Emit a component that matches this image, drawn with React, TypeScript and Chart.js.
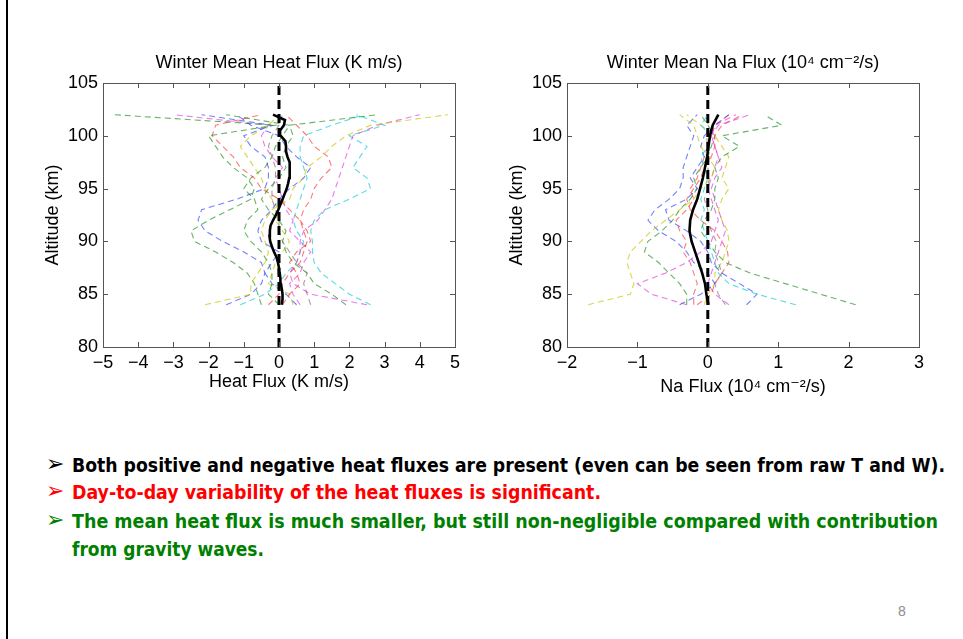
import React, { useEffect, useLayoutEffect, useRef } from 'react';
import { Chart, registerables } from 'chart.js';

Chart.register(...registerables);

// ---------------- DATA ----------------
const ALT = [84, 85, 86, 87, 88, 89, 90, 91, 92, 93, 94, 95, 96, 97, 98, 99, 100, 101, 102];
const ZERO_ALT = [80, 105];
const ZERO_VAL = [0, 0];

const HEAT_X_TICKS = [-5, -4, -3, -2, -1, 0, 1, 2, 3, 4, 5];
const NA_X_TICKS = [-2, -1, 0, 1, 2, 3];
const ALT_TICKS = [80, 85, 90, 95, 100, 105];

// Heat flux mean (0.5 km steps)
const HEAT_MEAN_ALT = [84, 84.5, 85, 85.5, 86, 86.5, 87, 87.5, 88, 88.5, 89, 89.5, 90, 90.5, 91, 91.5, 92, 92.5, 93, 93.5, 94, 94.5, 95, 95.5, 96, 96.5, 97, 97.5, 98, 98.5, 99, 99.5, 100, 100.5, 101, 101.5, 102];
const heatMean = [0.08, 0.1, 0.1, 0.08, 0.05, 0.04, 0.02, 0.0, -0.03, -0.07, -0.14, -0.2, -0.25, -0.27, -0.26, -0.24, -0.17, -0.09, -0.02, 0.04, 0.1, 0.16, 0.22, 0.26, 0.29, 0.31, 0.31, 0.29, 0.24, 0.2, 0.2, 0.18, 0.05, 0.03, 0.14, 0.17, -0.17];

// Heat flux daily profiles (alt 84 -> 102)
const heatYellowA = [-2.1, -0.8, -0.8, -0.6, -0.4, -0.3, -0.4, -0.5, -0.4, -0.2, 0.3, 0.4, 0.7, 0.8, 1.2, 1.5, 1.9, 2.6, 4.8];
const heatMagentaA = [2.5, 0.9, 0.4, 0.3, 0.5, 0.6, 0.6, 0.7, 1.1, 1.3, 1.5, 1.6, 1.7, 1.8, 1.9, 2.0, 2.1, 2.8, 4.0];
const heatCyanA = [2.6, 2.0, 1.6, 1.2, 1.0, 0.95, 0.95, 0.9, 1.0, 1.3, 2.0, 2.6, 2.5, 2.1, 2.3, 2.5, 2.0, 3.0, 2.2];
const heatGreenA = [-0.5, -0.6, -0.7, -0.9, -1.3, -1.8, -2.4, -2.5, -2.0, -1.4, -0.8, -0.7, -0.9, -1.3, -1.6, -1.8, -2.0, -0.1, -4.7];
const heatBlueA = [-1.5, -0.8, -0.5, -0.4, -0.5, -1.0, -1.6, -2.1, -2.3, -2.2, -1.2, -0.4, -0.3, -0.3, -0.4, -0.8, -1.0, -0.2, -2.2];
const heatRedA = [-0.3, 0.0, 0.1, 0.3, 0.6, 0.7, 0.8, 0.7, 0.6, 0.3, 0.0, -0.5, -0.7, -1.1, -1.3, -1.6, -1.9, -1.8, -0.5];
const heatRedB = [0.1, 0.3, 0.6, 0.5, 0.3, 0.5, 0.9, 0.8, 0.6, 0.7, 0.9, 1.0, 1.2, 1.5, 1.4, 1.0, 0.8, 0.5, 0.2];
const heatCyanB = [-1.1, -0.4, 0.0, 0.2, 0.5, 0.6, 0.7, 0.5, 0.4, 0.5, 0.6, 0.7, 0.8, 0.7, 0.6, 0.6, 0.7, 1.5, 2.4];
const heatGray = [0.9, 0.8, 0.7, 0.8, 0.5, 0.3, 0.1, 0.0, 0.0, -0.1, -0.2, -0.2, -0.1, -0.1, -0.2, -0.3, -0.2, 0.0, 0.1];
const heatGreenB = [0.0, -0.3, -0.2, -0.2, -0.3, -0.5, -0.8, -1.0, -0.9, -0.6, -0.7, -1.0, -0.8, -0.4, -0.2, -0.1, 0.1, 0.3, -1.5];
const heatGreenC = [1.9, 1.5, 1.0, 0.8, 0.4, 0.2, 0.1, 0.2, 0.0, -0.3, -0.5, -0.3, 0.0, 0.2, 0.1, 0.2, 0.4, 0.3, 2.8];
const heatBlueB = [0.5, 0.2, -0.2, -0.4, -0.2, 0.0, -0.5, -0.6, -0.5, -0.2, 0.0, 0.3, 0.7, 0.9, 0.5, 0.2, 0.0, -0.8, -1.2];
const heatYellowB = [0.4, 0.3, -0.3, -0.2, -0.1, 0.1, 0.3, 0.1, -0.1, 0.0, -0.2, -0.4, -0.5, -0.7, -0.9, -1.1, -0.8, -0.3, 0.0];
const heatMagentaB = [0.6, 0.4, 0.3, 0.6, 0.7, 0.9, 0.6, 0.3, 0.4, 0.2, 0.1, 0.0, -0.1, 0.1, -0.2, -0.4, -0.5, -0.3, -3.0];

// Na flux mean (alt 84 -> 102)
const naMean = [0.01, -0.02, -0.04, -0.08, -0.13, -0.18, -0.23, -0.26, -0.25, -0.21, -0.15, -0.11, -0.07, -0.04, -0.01, 0.01, 0.03, 0.07, 0.15];

// Na flux daily profiles (alt 84 -> 102)
const naYellowA = [-1.7, -1.1, -1.05, -1.1, -1.15, -1.1, -0.95, -0.8, -0.6, -0.4, -0.2, -0.1, 0.05, 0.1, 0.0, -0.1, -0.15, -0.2, -0.4];
const naMagentaA = [-0.3, -0.8, -1.0, -0.6, -0.3, -0.1, 0.05, 0.1, 0.15, 0.1, 0.05, 0.0, 0.05, 0.1, 0.15, 0.1, 0.05, 0.15, 0.6];
const naGreenA = [2.1, 1.6, 1.1, 0.6, 0.25, 0.1, 0.0, -0.1, -0.05, 0.05, 0.1, 0.1, 0.15, 0.1, 0.2, 0.45, 0.2, 1.05, 0.8];
const naCyanA = [1.25, 0.7, 0.3, 0.15, 0.1, 0.05, 0.0, -0.05, -0.1, -0.05, -0.1, -0.05, 0.0, -0.05, -0.1, 0.0, 0.05, -0.1, 0.0];
const naBlueA = [-0.4, -0.1, 0.1, 0.0, -0.2, -0.3, -0.45, -0.7, -0.85, -0.75, -0.55, -0.4, -0.35, -0.35, -0.3, -0.25, -0.2, -0.3, -0.15];
const naBlueB = [0.55, 0.7, 0.45, 0.2, 0.05, 0.0, -0.1, -0.3, -0.55, -0.6, -0.3, -0.15, -0.25, -0.15, -0.05, -0.1, -0.05, 0.1, 0.3];
const naRedA = [-0.15, 0.05, 0.1, 0.2, 0.3, 0.28, 0.2, 0.1, -0.1, -0.25, -0.3, -0.2, -0.1, -0.05, 0.05, 0.1, 0.1, 0.2, 0.5];
const naGreenB = [-0.3, -0.3, -0.4, -0.55, -0.7, -0.9, -0.85, -0.65, -0.5, -0.4, -0.25, -0.15, -0.2, -0.1, 0.0, 0.05, 0.1, 0.0, -0.1];
const naGray = [0.25, 0.15, 0.1, 0.2, 0.15, 0.1, 0.12, 0.05, 0.0, 0.0, -0.05, 0.0, 0.02, 0.0, 0.02, 0.0, -0.02, 0.0, 0.0];
const naMagentaB = [0.3, 0.1, 0.0, 0.05, 0.1, 0.15, 0.2, 0.25, 0.2, 0.15, 0.1, 0.05, 0.1, 0.2, 0.15, 0.1, 0.05, 0.1, 0.4];
const naYellowB = [-0.05, 0.0, 0.1, 0.1, 0.2, 0.25, 0.3, 0.28, 0.2, 0.15, 0.2, 0.3, 0.2, 0.25, 0.3, 0.2, 0.1, -0.1, -0.3];
const naRedB = [-0.2, -0.2, -0.15, -0.2, -0.25, -0.35, -0.3, -0.4, -0.45, -0.3, -0.2, -0.25, -0.15, -0.1, -0.05, 0.0, 0.05, 0.1, 0.3];

// ---------------- STYLES ----------------
const C = {
  b: 'rgba(40,60,255,0.65)',
  g: 'rgba(20,140,20,0.65)',
  r: 'rgba(255,30,30,0.6)',
  c: 'rgba(0,200,210,0.65)',
  m: 'rgba(225,30,225,0.6)',
  y: 'rgba(200,200,0,0.7)',
  k: 'rgba(110,110,110,0.65)',
};

const heatSeries: [number[], string][] = [
  [heatYellowA, C.y], [heatMagentaA, C.m], [heatCyanA, C.c], [heatGreenA, C.g],
  [heatBlueA, C.b], [heatRedA, C.r], [heatRedB, C.r], [heatCyanB, C.c],
  [heatGray, C.k], [heatGreenB, C.g], [heatGreenC, C.g], [heatBlueB, C.b],
  [heatYellowB, C.y], [heatMagentaB, C.m],
];
const naSeries: [number[], string][] = [
  [naYellowA, C.y], [naMagentaA, C.m], [naGreenA, C.g], [naCyanA, C.c],
  [naBlueA, C.b], [naBlueB, C.b], [naRedA, C.r], [naGreenB, C.g],
  [naGray, C.k], [naMagentaB, C.m], [naYellowB, C.y], [naRedB, C.r],
];

const FONT = "'Liberation Sans', Arial, Helvetica, 'DejaVu Sans', sans-serif";

const pts = (xs: number[], ys: number[]) => xs.map((v, i) => ({ x: v, y: ys[i] }));
const minusFmt = (v: any) => String(v).replace('-', '\u2212');

const matlabBox = {
  id: 'matlabBox',
  afterDraw(chart: any) {
    const { ctx, chartArea: a, scales } = chart;
    const x = scales.x, y = scales.y;
    const L = 5;
    ctx.save();
    ctx.strokeStyle = '#555';
    ctx.lineWidth = 1;
    ctx.beginPath();
    x.ticks.forEach((t: any) => {
      const px = Math.round(x.getPixelForValue(t.value)) + 0.5;
      ctx.moveTo(px, a.bottom); ctx.lineTo(px, a.bottom - L);
      ctx.moveTo(px, a.top); ctx.lineTo(px, a.top + L);
    });
    y.ticks.forEach((t: any) => {
      const py = Math.round(y.getPixelForValue(t.value)) + 0.5;
      ctx.moveTo(a.left, py); ctx.lineTo(a.left + L, py);
      ctx.moveTo(a.right, py); ctx.lineTo(a.right - L, py);
    });
    ctx.stroke();
    ctx.strokeRect(Math.round(a.left) + 0.5, Math.round(a.top) + 0.5, Math.round(a.width), Math.round(a.height));
    ctx.restore();
  },
};

type PanelProps = {
  title: string;
  xTitle: string;
  xTicks: number[];
  series: [number[], string][];
  mean: number[];
  meanAlt: number[];
  yAxisWidth: number;
  padRight: number;
  xTitlePadBottom: number;
  yTitlePadTop: number;
  width: number;
  height: number;
};

function Panel(p: PanelProps) {
  const ref = useRef<HTMLCanvasElement>(null);
  useEffect(() => {
    if (!ref.current) return;
    const datasets: any[] = [
      {
        data: pts(ZERO_VAL, ZERO_ALT), borderColor: '#000', borderWidth: 3,
        borderDash: [9, 5], pointRadius: 0, showLine: true, order: 0,
      },
      {
        data: pts(p.mean, p.meanAlt), borderColor: '#000', borderWidth: 2.6,
        pointRadius: 0, showLine: true, order: 1,
      },
      ...p.series.map(([vals, col], i) => ({
        data: pts(vals, ALT), borderColor: col, borderWidth: 1.1,
        borderDash: [6, 4], pointRadius: 0, showLine: true, order: 2 + i,
      })),
    ];
    const chart = new Chart(ref.current, {
      type: 'scatter',
      data: { datasets },
      plugins: [matlabBox],
      options: {
        animation: false,
        responsive: false,
        devicePixelRatio: 1,
        events: [],
        layout: { padding: { left: 0, right: p.padRight, top: 0, bottom: 0 } },
        plugins: {
          legend: { display: false },
          tooltip: { enabled: false },
          title: {
            display: true, text: p.title, color: '#000', fullSize: false,
            font: { family: FONT, size: 18, weight: 'normal', lineHeight: 1.2 },
            padding: { top: 52.2, bottom: 9.2 },
          },
        },
        scales: {
          x: {
            type: 'linear', min: p.xTicks[0], max: p.xTicks[p.xTicks.length - 1],
            grid: { display: false, drawTicks: false },
            border: { display: false },
            afterBuildTicks: (s: any) => { s.ticks = p.xTicks.map((v) => ({ value: v })); },
            afterFit: (s: any) => { s.height = p.height - 347; },
            ticks: {
              color: '#000', padding: 5, autoSkip: false, maxRotation: 0,
              font: { family: FONT, size: 18, lineHeight: 1.2 },
              callback: (v: any) => minusFmt(v),
            },
            title: {
              display: true, text: p.xTitle, color: '#000',
              font: { family: FONT, size: 18, lineHeight: 1.2 },
              padding: { top: 0, bottom: p.xTitlePadBottom },
            },
          },
          y: {
            type: 'linear', min: 80, max: 105,
            grid: { display: false, drawTicks: false },
            border: { display: false },
            afterBuildTicks: (s: any) => { s.ticks = ALT_TICKS.map((v) => ({ value: v })); },
            afterFit: (s: any) => { s.width = p.yAxisWidth; },
            ticks: {
              color: '#000', padding: 5, autoSkip: false,
              font: { family: FONT, size: 18, lineHeight: 1.2 },
            },
            title: {
              display: true, text: 'Altitude (km)', color: '#000',
              font: { family: FONT, size: 18, lineHeight: 1.2 },
              padding: { top: p.yTitlePadTop, bottom: 0 },
            },
          },
        },
      } as any,
    });
    return () => chart.destroy();
  }, []);
  return <canvas ref={ref} width={p.width} height={p.height} style={{ display: 'block', width: p.width, height: p.height }} />;
}

type LineProps = { text: string; color: string; left: number; top: number; width: number; size: number };
function FitLine({ text, color, left, top, width, size }: LineProps) {
  const ref = useRef<HTMLSpanElement>(null);
  useLayoutEffect(() => {
    const el = ref.current;
    if (!el) return;
    el.style.transform = 'none';
    const w = el.getBoundingClientRect().width;
    if (w > 0) el.style.transform = `scaleX(${width / w})`;
  }, [text, width]);
  return (
    <span
      ref={ref}
      style={{
        position: 'absolute', left, top, whiteSpace: 'nowrap', transformOrigin: '0 0',
        fontFamily: "'Liberation Sans Narrow', 'DejaVu Sans Condensed', 'Liberation Sans', sans-serif",
        fontWeight: 700, fontSize: size, lineHeight: 1, color,
      }}
    >
      {text}
    </span>
  );
}

const Bullet = ({ color, top }: { color: string; top: number }) => (
  <span style={{ position: 'absolute', left: 46, top, fontFamily: "'DejaVu Sans', sans-serif", fontSize: 22, lineHeight: 1, color }}>
    {'\u27A2'}
  </span>
);

const BULLET_LINES = [
  'Both positive and negative heat fluxes are present (even can be seen from raw T and W).',
  'Day-to-day variability of the heat fluxes is significant.',
  'The mean heat flux is much smaller, but still non-negligible compared with contribution',
  'from gravity waves.',
];

export default function App() {
  return (
    <div style={{ position: 'absolute', left: 0, top: 0, width: 963, height: 639, background: '#fff', overflow: 'hidden' }}>
      <div style={{ position: 'absolute', left: 0, top: 0 }}>
        <Panel
          title="Winter Mean Heat Flux (K m/s)"
          xTitle="Heat Flux (K m/s)"
          xTicks={HEAT_X_TICKS}
          series={heatSeries}
          mean={heatMean}
          meanAlt={HEAT_MEAN_ALT}
          yAxisWidth={103}
          padRight={25}
          xTitlePadBottom={27.2}
          yTitlePadTop={42.2}
          width={480}
          height={420}
        />
      </div>
      <div style={{ position: 'absolute', left: 480, top: 0 }}>
        <Panel
          title={'Winter Mean Na Flux (10\u2074 cm\u207B\u00B2/s)'}
          xTitle={'Na Flux (10\u2074 cm\u207B\u00B2/s)'}
          xTicks={NA_X_TICKS}
          series={naSeries}
          mean={naMean}
          meanAlt={ALT}
          yAxisWidth={87}
          padRight={44}
          xTitlePadBottom={22.2}
          yTitlePadTop={26.2}
          width={483}
          height={420}
        />
      </div>
      <div style={{ position: 'absolute', left: 6, top: 0, width: 2, height: 639, background: '#000' }} />
      <Bullet color="#000" top={453} />
      <Bullet color="#ff0000" top={480} />
      <Bullet color="#008000" top={509} />
      <FitLine text={BULLET_LINES[0]} color="#000" left={72} top={455} width={873} size={20} />
      <FitLine text={BULLET_LINES[1]} color="#ff0000" left={72} top={482} width={529} size={20} />
      <FitLine text={BULLET_LINES[2]} color="#008000" left={72} top={511} width={866} size={20} />
      <FitLine text={BULLET_LINES[3]} color="#008000" left={72} top={539} width={192} size={20} />
      <span style={{ position: 'absolute', left: 898, top: 604, fontFamily: FONT, fontSize: 14, lineHeight: 1, color: '#8c8c8c' }}>8</span>
    </div>
  );
}
